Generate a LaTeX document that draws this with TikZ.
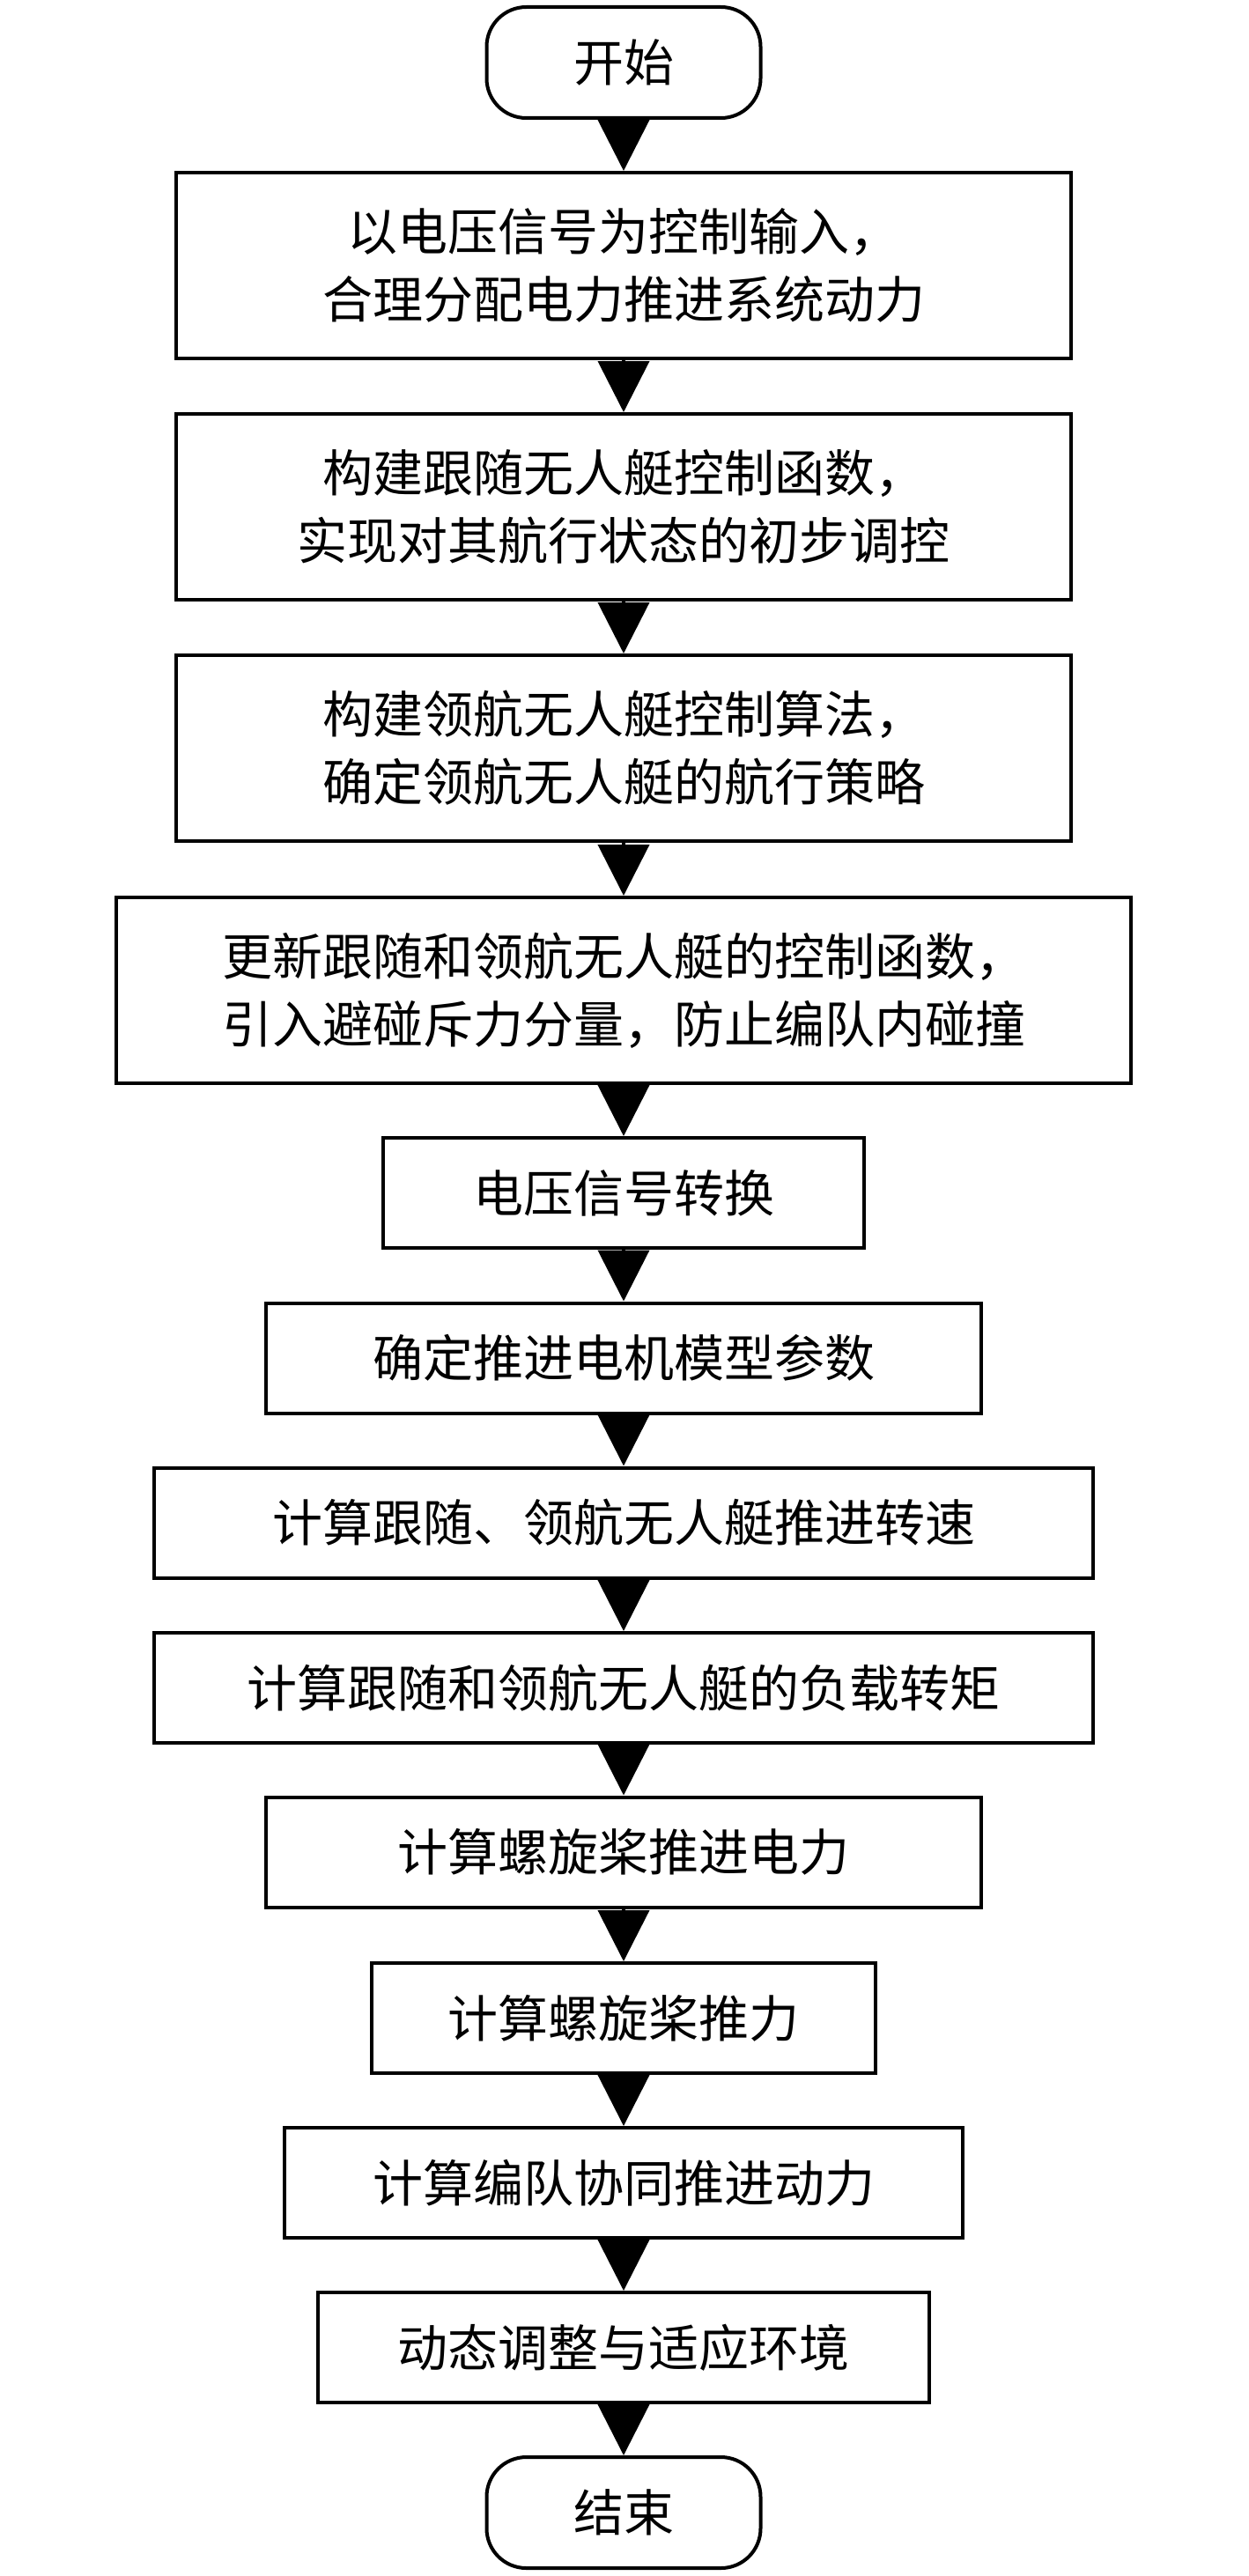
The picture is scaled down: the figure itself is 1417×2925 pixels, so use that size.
\documentclass[tikz,border=0pt]{standalone}
\usepackage{fontspec}
\usepackage{tikz}
\usetikzlibrary{arrows.meta}
\newfontfamily\cjk{Noto Sans CJK SC}

\begin{document}
\begin{tikzpicture}
		[x=1pt,y=1pt,line width=4pt,line join=miter,
		%Styles
		box text/.style={font={\cjk\fontsize{57pt}{77pt}\selectfont},align=center,inner sep=0pt},
		process box/.style={box text,draw,rectangle,minimum height=125pt},
		tall box/.style={process box,minimum height=211pt},
		terminal/.style={box text,draw,rectangle,rounded corners=45pt,minimum width=311pt,minimum height=126pt},
		flow arrow/.style={-{Triangle[length=58pt,width=58pt]},sharp corners}
		]
		
		\useasboundingbox (0,0) rectangle (1417,-2925);
		
		%The nodes
		\node[terminal] (start) at (708,-71) {开始};
		\node[tall box,minimum width=1016pt] (signal) at (708,-301.5) {以电压信号为控制输入，\\合理分配电力推进系统动力};
		\node[tall box,minimum width=1016pt] (follower) at (708,-575.5) {构建跟随无人艇控制函数，\\实现对其航行状态的初步调控};
		\node[tall box,minimum width=1016pt] (leader) at (708,-849.5) {构建领航无人艇控制算法，\\确定领航无人艇的航行策略};
		\node[tall box,minimum width=1152pt] (update) at (708,-1124.5) {更新跟随和领航无人艇的控制函数，\\引入避碰斥力分量，防止编队内碰撞};
		\node[process box,minimum width=546pt] (convert) at (708,-1354.5) {电压信号转换};
		\node[process box,minimum width=812pt] (motor) at (708,-1542) {确定推进电机模型参数};
		\node[process box,minimum width=1066pt] (speed) at (708,-1729) {计算跟随、领航无人艇推进转速};
		\node[process box,minimum width=1066pt] (torque) at (708,-1916.5) {计算跟随和领航无人艇的负载转矩};
		\node[process box,minimum width=812pt] (power) at (708,-2103) {计算螺旋桨推进电力};
		\node[process box,minimum width=572pt] (thrust) at (708,-2291.5) {计算螺旋桨推力};
		\node[process box,minimum width=770pt] (team) at (708,-2478.5) {计算编队协同推进动力};
		\node[process box,minimum width=694pt] (adapt) at (708,-2665.5) {动态调整与适应环境};
		\node[terminal] (stop) at (708,-2853) {结束};
		
		%The arrows
		\foreach \a/\b in {start/signal,signal/follower,follower/leader,leader/update,update/convert,convert/motor,motor/speed,speed/torque,torque/power,power/thrust,thrust/team,team/adapt,adapt/stop}
			\draw[flow arrow] (\a.south) -- (\b.north);
	\end{tikzpicture}
\end{document}
